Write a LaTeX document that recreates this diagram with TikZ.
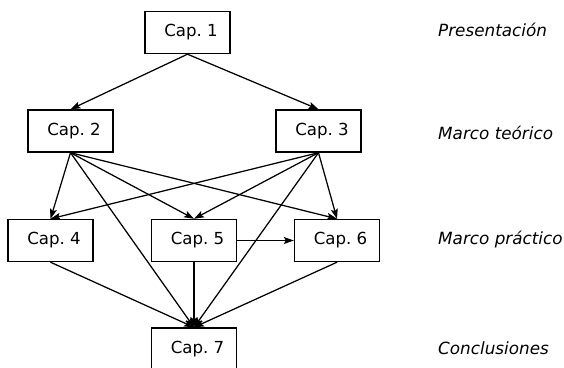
\documentclass[tikz,border=0pt]{standalone}
\usepackage{fontspec}
\setmainfont{DejaVu Sans}
\usetikzlibrary{arrows.meta}
\frenchspacing
\newcommand{\captxt}[1]{\hspace*{7pt}#1}
\begin{document}
\begin{tikzpicture}[x=1pt,y=-1pt,
  capbox/.style={draw,line width=1.4pt,minimum width=85pt,minimum height=42pt,inner sep=0pt,font=\fontsize{16.6}{19}\selectfont},
  lvl/.style={anchor=west,inner sep=0pt,font=\fontsize{16.8}{19}\selectfont\itshape},
  conn/.style={line width=1.25pt,-{Stealth[length=10pt,width=7pt,inset=2pt]}}]
\clip (0,0) rectangle (564,367);
\useasboundingbox (0,0) rectangle (564,367);
\node[capbox] (c1) at (187.5,32.5) {\captxt{Cap.\ 1}};
\node[capbox] (c2) at (70.5,131) {\captxt{Cap.\ 2}};
\node[capbox] (c3) at (318.5,131) {\captxt{Cap.\ 3}};
\node[capbox] (c4) at (50.5,240.5) {\captxt{Cap.\ 4}};
\node[capbox] (c5) at (194,240.5) {\captxt{Cap.\ 5}};
\node[capbox] (c6) at (337,240.5) {\captxt{Cap.\ 6}};
\node[capbox] (c7) at (194,349) {\captxt{Cap.\ 7}};
\node[lvl] (l1) at (438,30) {Presentación};
\node[lvl] (l2) at (438,133) {Marco teórico};
\node[lvl] (l3) at (438,240) {Marco práctico};
\node[lvl] (l4) at (438,348) {Conclusiones};
\draw[conn] (c1.south) -- (c2.north);
\draw[conn] (c1.south) -- (c3.north);
\draw[conn] (c2.south) -- (c4.north);
\draw[conn] (c2.south) -- (c5.north);
\draw[conn] (c2.south) -- (c6.north);
\draw[conn] (c2.south) -- (c7.north);
\draw[conn] (c3.south) -- (c4.north);
\draw[conn] (c3.south) -- (c5.north);
\draw[conn] (c3.south) -- (c6.north);
\draw[conn] (c3.south) -- (c7.north);
\draw[conn] (c4.south) -- (c7.north);
\draw[conn] (c5.south) -- (c7.north);
\draw[conn] (c6.south) -- (c7.north);
\draw[conn] (c5.east) -- (c6.west);
\end{tikzpicture}
\end{document}
